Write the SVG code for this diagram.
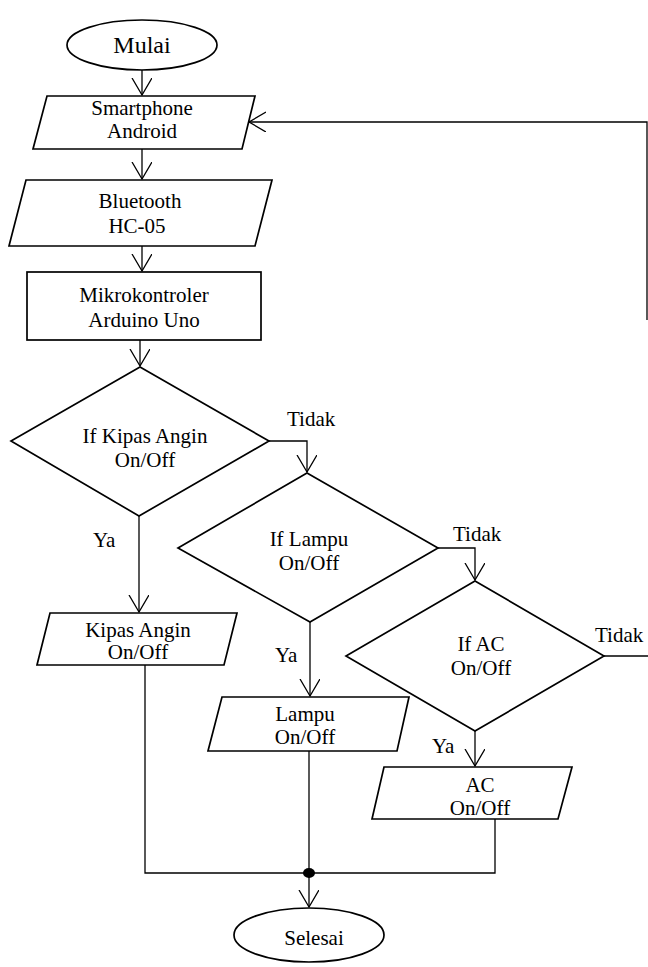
<svg xmlns="http://www.w3.org/2000/svg" width="648" height="967" viewBox="0 0 648 967" font-family="Liberation Serif, DejaVu Serif, serif" font-size="21">
<style>
.s{fill:#fff;stroke:#000;stroke-width:1.7}
.c{fill:none;stroke:#000;stroke-width:1.3}
.m{text-anchor:middle}
</style>
<defs>
<marker id="ar" markerUnits="userSpaceOnUse" markerWidth="20" markerHeight="22" refX="17" refY="10" orient="auto">
<path d="M0,0 L17,10 L0,20" fill="none" stroke="#000" stroke-width="1.3"/>
</marker>
</defs>
<g id="connectors">
<path class="c" d="M142,70 V95" marker-end="url(#ar)"/>
<path class="c" d="M142,149 V179" marker-end="url(#ar)"/>
<path class="c" d="M142,246 V271" marker-end="url(#ar)"/>
<path class="c" d="M140,340 V366" marker-end="url(#ar)"/>
<path class="c" d="M269,441 H307 V472" marker-end="url(#ar)"/>
<path class="c" d="M139,516 V612" marker-end="url(#ar)"/>
<path class="c" d="M438,548 H475 V580" marker-end="url(#ar)"/>
<path class="c" d="M310,622 V696" marker-end="url(#ar)"/>
<path class="c" d="M475,731 V766" marker-end="url(#ar)"/>
<path class="c" d="M604,656 H648"/>
<path class="c" d="M647,320 V122 H249" marker-end="url(#ar)"/>
<path class="c" d="M145,665 V873 H495 V819"/>
<path class="c" d="M309,751 V873"/>
<path class="c" d="M309,873 V907" marker-end="url(#ar)"/>
<ellipse cx="309" cy="873" rx="6" ry="5" fill="#000"/>
<text x="287" y="426">Tidak</text>
<text x="453" y="541">Tidak</text>
<text x="595" y="642">Tidak</text>
<text x="93" y="547">Ya</text>
<text x="275" y="662">Ya</text>
<text x="432" y="753">Ya</text>
</g>
<g id="mulai">
<ellipse class="s" cx="142" cy="45" rx="75" ry="25"/>
<text class="m" x="142" y="53" font-size="24">Mulai</text>
</g>
<g id="smartphone">
<polygon class="s" points="47,96 255,96 242,149 33,149"/>
<text class="m" x="142" y="115">Smartphone</text>
<text class="m" x="142" y="138">Android</text>
</g>
<g id="bluetooth">
<polygon class="s" points="26,180 272,180 255,246 9,246"/>
<text class="m" x="140" y="208">Bluetooth</text>
<text class="m" x="137" y="233">HC-05</text>
</g>
<g id="arduino">
<rect class="s" x="27" y="272" width="234" height="68"/>
<text class="m" x="144" y="302">Mikrokontroler</text>
<text class="m" x="144" y="327">Arduino Uno</text>
</g>
<g id="if-kipas">
<polygon class="s" points="140,367 269,441 139,516 11,441"/>
<text class="m" x="145" y="443">If Kipas Angin</text>
<text class="m" x="145" y="467">On/Off</text>
</g>
<g id="if-lampu">
<polygon class="s" points="307,473 438,548 310,622 178,548"/>
<text class="m" x="309" y="546">If Lampu</text>
<text class="m" x="309" y="570">On/Off</text>
</g>
<g id="if-ac">
<polygon class="s" points="475,581 604,656 475,731 346,656"/>
<text class="m" x="481" y="651">If AC</text>
<text class="m" x="481" y="675">On/Off</text>
</g>
<g id="kipas">
<polygon class="s" points="50,613 237,613 224,665 37,665"/>
<text class="m" x="138" y="637">Kipas Angin</text>
<text class="m" x="138" y="659">On/Off</text>
</g>
<g id="lampu">
<polygon class="s" points="222,697 409,697 397,751 208,751"/>
<text class="m" x="305" y="721">Lampu</text>
<text class="m" x="305" y="744">On/Off</text>
</g>
<g id="ac">
<polygon class="s" points="384,767 572,767 558,819 372,819"/>
<text class="m" x="480" y="792">AC</text>
<text class="m" x="480" y="815">On/Off</text>
</g>
<g id="selesai">
<ellipse class="s" cx="309" cy="935" rx="75" ry="27"/>
<text class="m" x="314" y="945">Selesai</text>
</g>
</svg>
